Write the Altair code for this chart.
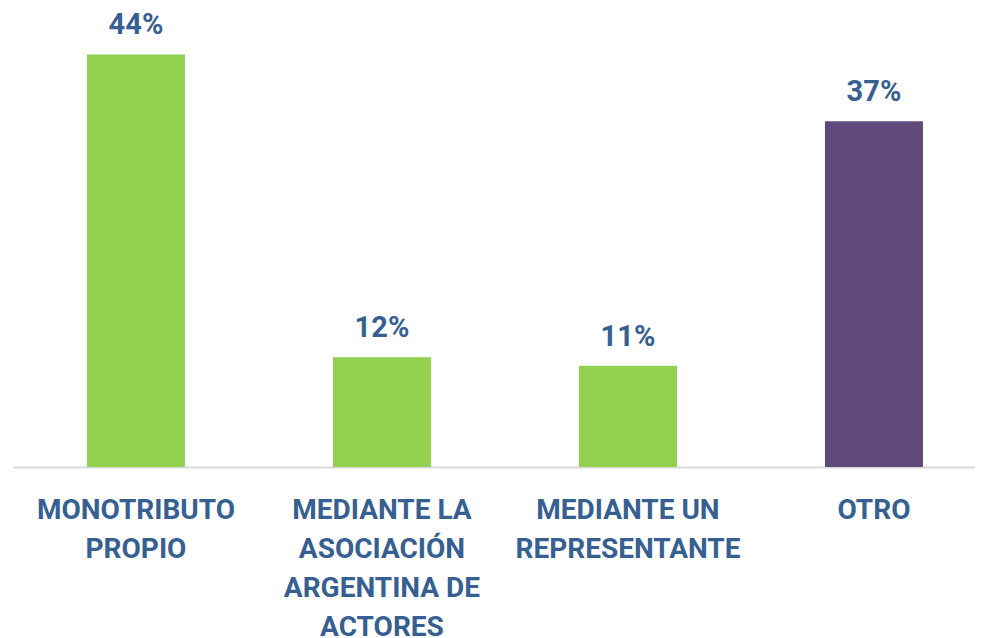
import altair as alt
import pandas as pd

categories = [
    "MONOTRIBUTO\nPROPIO",
    "MEDIANTE LA\nASOCIACIÓN\nARGENTINA DE\nACTORES",
    "MEDIANTE UN\nREPRESENTANTE",
    "OTRO",
]
values = [44.4, 11.8, 10.9, 37.2]
bar_colors = ["#92D050", "#92D050", "#92D050", "#604A7B"]

df = pd.DataFrame({"cat": categories, "value": values})

TEXT = "#366092"
FONT = "Roboto"

x = alt.X(
    "cat:N",
    sort=categories,
    title=None,
    scale=alt.Scale(paddingInner=0.6016, paddingOuter=0.2561, align=0.587),
    axis=alt.Axis(
        labelExpr="split(datum.label, '\\n')",
        labelAngle=0,
        labelFont=FONT,
        labelFontWeight="bold",
        labelFontSize=28,
        labelColor=TEXT,
        labelLineHeight=39,
        labelBaseline="alphabetic",
        labelPadding=51,
        ticks=False,
        grid=False,
        domainColor="#D9D9D9",
        domainWidth=2,
        labelLimit=400,
    ),
)
y = alt.Y("value:Q", scale=alt.Scale(domain=[0, 48], nice=False), axis=None)

bars = alt.Chart(df).mark_bar().encode(
    x=x,
    y=y,
    color=alt.Color("cat:N", scale=alt.Scale(domain=categories, range=bar_colors), legend=None),
)

labels = alt.Chart(df).transform_calculate(
    lbl="format(datum.value, '.0f') + '%'"
).mark_text(
    font=FONT, fontWeight="bold", fontSize=29, color=TEXT, dy=-20, baseline="alphabetic"
).encode(
    x=alt.X("cat:N", sort=categories),
    y=y,
    text="lbl:N",
)

chart = (
    alt.layer(bars, labels)
    .properties(
        width=962,
        height=446,
        autosize=alt.AutoSizeParams(type="none"),
        padding={"left": 5, "top": 13, "right": 0, "bottom": 175},
        view=alt.ViewBackground(stroke="transparent"),
    )
    .configure_view(stroke="transparent", strokeWidth=0)
    .configure(background="white")
)

chart.save("out.html", embed_options={"renderer": "svg", "actions": False})
